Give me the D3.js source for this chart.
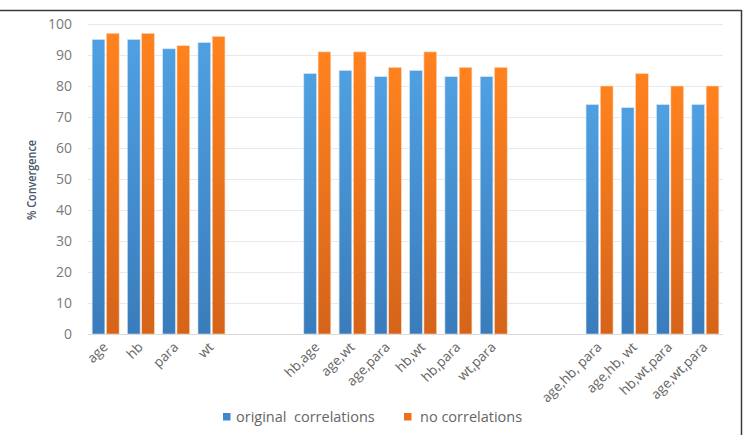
<!DOCTYPE html>
<html>
<head>
<meta charset="utf-8">
<script src="https://cdn.jsdelivr.net/npm/d3@7"></script>
<style>
  html, body { margin: 0; padding: 0; background: #fff; }
  svg { display: block; }
</style>
</head>
<body>
<svg id="chart" width="743" height="435"></svg>
<script>
// ---- data ----
const categories = ["age", "hb", "para", "wt", "", "",
  "hb,age", "age,wt", "age,para", "hb,wt", "hb,para", "wt,para", "", "",
  "age,hb, para", "age,hb, wt", "hb,wt,para", "age,wt,para"];
const originalCorrelations = [95, 95, 92, 94, null, null,
  84, 85, 83, 85, 83, 83, null, null,
  74, 73, 74, 74];
const noCorrelations = [97, 97, 93, 96, null, null,
  91, 91, 86, 91, 86, 86, null, null,
  80, 84, 80, 80];
const seriesNames = ["original  correlations", "no correlations"];
const yTicks = [0, 10, 20, 30, 40, 50, 60, 70, 80, 90, 100];
const yTitle = "% Convergence";

// ---- layout ----
const svg = d3.select("#chart");
const W = 743, H = 435;
const plot = { left: 88, right: 723, top: 24, bottom: 334 };
const font = "'Open Sans', 'DejaVu Sans', sans-serif";

// frame lines
svg.append("line").attr("x1", 0).attr("x2", 741.5).attr("y1", 10.5).attr("y2", 10.5)
  .attr("stroke", "#3a3a3a").attr("stroke-width", 1.5);
svg.append("line").attr("x1", 741.5).attr("x2", 741.5).attr("y1", 10).attr("y2", H)
  .attr("stroke", "#3a3a3a").attr("stroke-width", 1.5);

// gradients
const defs = svg.append("defs");
function grad(id, top, bottom) {
  const g = defs.append("linearGradient").attr("id", id)
    .attr("x1", 0).attr("y1", 0).attr("x2", 0).attr("y2", 1);
  g.append("stop").attr("offset", "0%").attr("stop-color", top);
  g.append("stop").attr("offset", "100%").attr("stop-color", bottom);
}
grad("gBlue", "#4fa0e2", "#3a7cbb");
grad("gOrange", "#ff821e", "#d5641a");
const fills = ["url(#gBlue)", "url(#gOrange)"];
const legendColors = ["#3f88cc", "#ee7018"];

// scales
const idx = categories.map((d, i) => i);
const x0 = d3.scaleBand().domain(idx).range([plot.left, plot.right])
  .paddingInner(0.235).paddingOuter(0.1175);
const x1 = d3.scaleBand().domain([0, 1]).range([0, x0.bandwidth()]).paddingInner(0.11);
const y = d3.scaleLinear().domain([0, 100]).range([plot.bottom, plot.top]);

// gridlines
svg.append("g").selectAll("line").data(yTicks).join("line")
  .attr("x1", plot.left).attr("x2", plot.right)
  .attr("y1", d => Math.round(y(d)) + 0.5).attr("y2", d => Math.round(y(d)) + 0.5)
  .attr("stroke", d => d === 0 ? "#d9d9d9" : "#e9e9e9").attr("stroke-width", 1);

// y axis labels
const yAxis = d3.axisLeft(y).tickValues(yTicks).tickSize(0).tickPadding(0);
const yg = svg.append("g").attr("transform", `translate(${plot.left - 16},0)`).call(yAxis);
yg.select(".domain").remove();
yg.selectAll("text").attr("font-family", font).attr("font-size", 14).attr("fill", "#7a7a7a");

// y title
svg.append("text").attr("transform", `translate(36,${180}) rotate(-90)`)
  .attr("text-anchor", "middle").attr("font-family", font).attr("font-size", 13)
  .attr("font-weight", 600)
  .attr("fill", "#44546a").attr("textLength", 80).attr("lengthAdjust", "spacingAndGlyphs")
  .text(yTitle);

// bars
const series = [originalCorrelations, noCorrelations];
const barsG = svg.append("g");
series.forEach((vals, s) => {
  barsG.append("g").selectAll("rect")
    .data(vals.map((v, i) => ({ v, i })).filter(d => d.v !== null))
    .join("rect")
    .attr("x", d => x0(d.i) + x1(s))
    .attr("width", x1.bandwidth())
    .attr("y", d => y(d.v))
    .attr("height", d => y(0) - y(d.v))
    .attr("fill", fills[s])
    .attr("stroke", s === 0 ? "#cfe3f5" : "#fbd9bf").attr("stroke-width", 0.6);
});

// x axis labels
const xAxis = d3.axisBottom(x0).tickFormat(i => categories[i]).tickSize(0).tickPadding(0);
const xg = svg.append("g").attr("transform", `translate(0,${plot.bottom})`).call(xAxis);
xg.select(".domain").remove();
xg.selectAll(".tick text")
  .attr("font-family", font).attr("font-size", 13.5).attr("fill", "#666")
  .attr("text-anchor", "end").attr("dy", 0).attr("y", 0)
  .attr("transform", "translate(3,14) rotate(-45)");

// legend
const legend = svg.append("g");
const legendItems = [{ x: 223, name: seriesNames[0] }, { x: 404, name: seriesNames[1] }];
legendItems.forEach((it, s) => {
  legend.append("rect").attr("x", it.x).attr("y", 413).attr("width", 7.5).attr("height", 7.5)
    .attr("fill", legendColors[s]);
  legend.append("text").attr("x", it.x + (s === 0 ? 13 : 16)).attr("y", 422)
    .attr("font-family", font).attr("font-size", 14.5).attr("fill", "#666")
    .attr("xml:space", "preserve").style("white-space", "pre")
    .text(it.name);
});
</script>
</body>
</html>
